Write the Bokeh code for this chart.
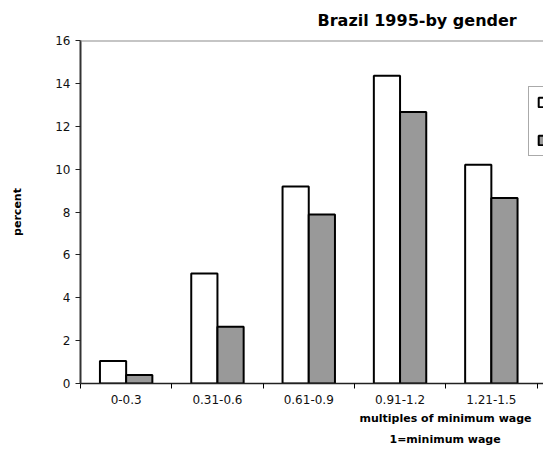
import numpy as np
from bokeh.plotting import figure
from bokeh.models import Range1d, FixedTicker, Legend, LegendItem, Span, Title
from bokeh.embed import file_html
from bokeh.resources import INLINE

# ---- data ----
categories = ["0-0.3", "0.31-0.6", "0.61-0.9", "0.91-1.2", "1.21-1.5"]
series_names = ["male", "female"]
male_pct = [1.05, 5.13, 9.19, 14.35, 10.2]
female_pct = [0.4, 2.65, 7.88, 12.67, 8.65]
y_ticks = [0, 2, 4, 6, 8, 10, 12, 14, 16]
title_text = "Brazil 1995-by gender"
x_title_lines = ["multiples of minimum wage", "1=minimum wage"]
y_title = "percent"

FONT = "DejaVu Sans"
n = len(categories)
idx = np.arange(n)
bar_w = 0.287
cat_px = 91.3  # pixel width of one category slot

W, H = 543, 450
left, top, bottom = 80, 40, 67
frame_w = W - left

p = figure(width=W, height=H, output_backend="svg", toolbar_location=None,
           x_range=Range1d(0, frame_w / cat_px), y_range=Range1d(0, 16),
           min_border_left=left, min_border_right=0, min_border_top=top,
           min_border_bottom=bottom)
p.outline_line_color = None
p.xgrid.visible = False
p.ygrid.visible = False
p.background_fill_color = "white"
p.border_fill_color = "white"

r1 = p.vbar(x=idx + 0.5 - bar_w / 2, top=male_pct, width=bar_w,
            fill_color="white", line_color="black", line_width=2)
r2 = p.vbar(x=idx + 0.5 + bar_w / 2, top=female_pct, width=bar_w,
            fill_color="#999999", line_color="black", line_width=2)

# top gray line
p.add_layout(Span(location=16, dimension="width", line_color="#8c8c8c", line_width=2))

# x axis
xa = p.xaxis[0]
xa.ticker = FixedTicker(ticks=[i + 0.5 for i in range(n)],
                        minor_ticks=list(range(0, n + 2)))
xa.major_label_overrides = {i + 0.5: c for i, c in enumerate(categories)}
xa.major_tick_out = 0
xa.major_tick_in = 0
xa.minor_tick_out = 5
xa.minor_tick_in = 0
xa.minor_tick_line_color = "black"
xa.axis_line_color = "#222222"
xa.axis_line_width = 1.5
xa.major_label_text_font = FONT
xa.major_label_text_font_size = "12px"
xa.major_label_text_color = "#111111"
xa.major_label_standoff = 6

# y axis
ya = p.yaxis[0]
ya.ticker = FixedTicker(ticks=y_ticks, minor_ticks=[])
ya.major_tick_out = 5
ya.major_tick_in = 0
ya.major_tick_line_color = "#222222"
ya.axis_line_color = "#333333"
ya.axis_line_width = 2
ya.major_label_text_font = FONT
ya.major_label_text_font_size = "12px"
ya.major_label_text_color = "#111111"
ya.major_label_standoff = 5
ya.axis_label = y_title
ya.axis_label_text_font = FONT
ya.axis_label_text_font_size = "11px"
ya.axis_label_text_font_style = "bold"
ya.axis_label_text_color = "black"
ya.axis_label_standoff = 28

# chart title
p.add_layout(Title(text=title_text, align="left", offset=237, vertical_align="top",
                   text_font=FONT, text_font_size="16px", text_font_style="bold",
                   text_line_height=0.8, text_color="black", standoff=18), "above")

# x axis title (two lines), centred right of the visible frame centre
x_title_offsets = [279, 309]
x_title_standoffs = [7, 4]
for line, off, so in zip(x_title_lines, x_title_offsets, x_title_standoffs):
    p.add_layout(Title(text=line, align="left", offset=off, text_font=FONT,
                       text_font_size="11px", text_font_style="bold",
                       text_color="black", standoff=so), "below")

legend = Legend(items=[LegendItem(label=series_names[0], renderers=[r1]),
                       LegendItem(label=series_names[1], renderers=[r2])],
                location=(448, 227), orientation="vertical",
                glyph_height=12, glyph_width=12, label_height=12,
                padding=8, spacing=24, margin=0,
                label_text_font=FONT, label_text_font_size="12px",
                border_line_color="#555555", border_line_width=1,
                background_fill_color="white", background_fill_alpha=1)
p.add_layout(legend, "center")

open("out.html", "w").write(file_html(p, INLINE))
